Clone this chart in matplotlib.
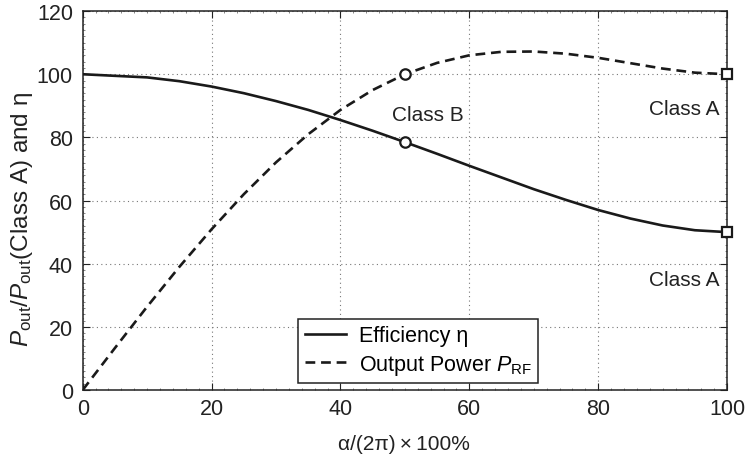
import matplotlib
matplotlib.use("Agg")
import matplotlib.pyplot as plt
from matplotlib.ticker import MultipleLocator

plt.rcParams['font.family'] = ['Liberation Sans', 'DejaVu Sans']
plt.rcParams['mathtext.fontset'] = 'custom'
plt.rcParams['mathtext.rm'] = 'Liberation Sans'
plt.rcParams['mathtext.it'] = 'Liberation Sans:italic'
plt.rcParams['mathtext.bf'] = 'Liberation Sans:bold'

# data
x_pct = [0, 5, 10, 15, 20, 25, 30, 35, 40, 45, 50, 55, 60, 65, 70, 75, 80, 85, 90, 95, 100]
efficiency = [100, 99.5, 99.0, 97.8, 96.1, 94.0, 91.5, 88.7, 85.5, 82.1, 78.5, 74.8, 71.0,
              67.3, 63.6, 60.2, 57.0, 54.3, 52.1, 50.6, 50.0]
power = [0, 13.3, 26.4, 39.0, 50.9, 62.0, 72.1, 81.0, 88.7, 95.0, 100, 103.6, 106.0,
         107.1, 107.2, 106.5, 105.2, 103.5, 101.8, 100.5, 100.0]
classB_x = 50
classA_x = 100

ink = '#1a1a1a'
fig = plt.figure(figsize=(7.45, 4.56), dpi=100)
ax = fig.add_axes([0.111, 0.1425, 0.865, 0.831])

lw = 1.9
ax.plot(x_pct, efficiency, color=ink, lw=lw, label='Efficiency η', zorder=3)
ax.plot(x_pct, power, color=ink, lw=lw, dashes=(3.7, 2.2), label=r'Output Power $P_{\rm RF}$', zorder=3)

ib = x_pct.index(classB_x)
ia = x_pct.index(classA_x)
ax.plot([classB_x, classB_x], [efficiency[ib], power[ib]], ls='none', marker='o', ms=7.5,
        mfc='white', mec=ink, mew=1.6, zorder=5, clip_on=False)
ax.plot([classA_x, classA_x], [efficiency[ia], power[ia]], ls='none', marker='s', ms=6.5,
        mfc='white', mec=ink, mew=1.6, zorder=5, clip_on=False)

ax.text(53.5, 87.1, 'Class B', fontsize=15, ha='center', va='center', color='#222222')
ax.text(98.8, 89.3, 'Class A', fontsize=15, ha='right', va='center', color='#222222')
ax.text(98.8, 34.9, 'Class A', fontsize=15, ha='right', va='center', color='#222222')

ax.set_xlim(0, 100)
ax.set_ylim(0, 120)
ax.xaxis.set_major_locator(MultipleLocator(20))
ax.yaxis.set_major_locator(MultipleLocator(20))
ax.xaxis.set_minor_locator(MultipleLocator(2))
ax.yaxis.set_minor_locator(MultipleLocator(2))
ax.tick_params(which='major', direction='in', length=5, width=0.8, labelsize=15.5,
               top=True, right=True, colors='#222222')
ax.tick_params(axis='x', which='major', pad=6)
ax.tick_params(axis='y', which='major', pad=7)
ax.tick_params(which='minor', direction='in', length=1.5, width=0.5, top=True, right=True,
               colors='#555555')
ax.grid(True, which='major', ls=(0, (1, 3)), color='#777777', lw=0.8)
for s in ax.spines.values():
    s.set_linewidth(1.1)
    s.set_color('#222222')

ax.set_xlabel('α/(2π)\u2009×\u2009100%', fontsize=15, color='#222222')
ax.xaxis.set_label_coords(0.498, -0.115)
ax.set_ylabel(r'$P_{\rm out}/P_{\rm out}$(Class A) and η', fontsize=17.5, color='#222222')
ax.yaxis.set_label_coords(-0.0745, 0.454)

leg = ax.legend(loc='lower center', bbox_to_anchor=(0.521, 0.018), borderaxespad=0,
                fontsize=15.5, fancybox=False, framealpha=1, edgecolor='#222222',
                handlelength=1.9, borderpad=0.3, labelspacing=0.3, handletextpad=0.6)
leg.get_frame().set_linewidth(1.1)

fig.savefig('out.png', dpi=100)
